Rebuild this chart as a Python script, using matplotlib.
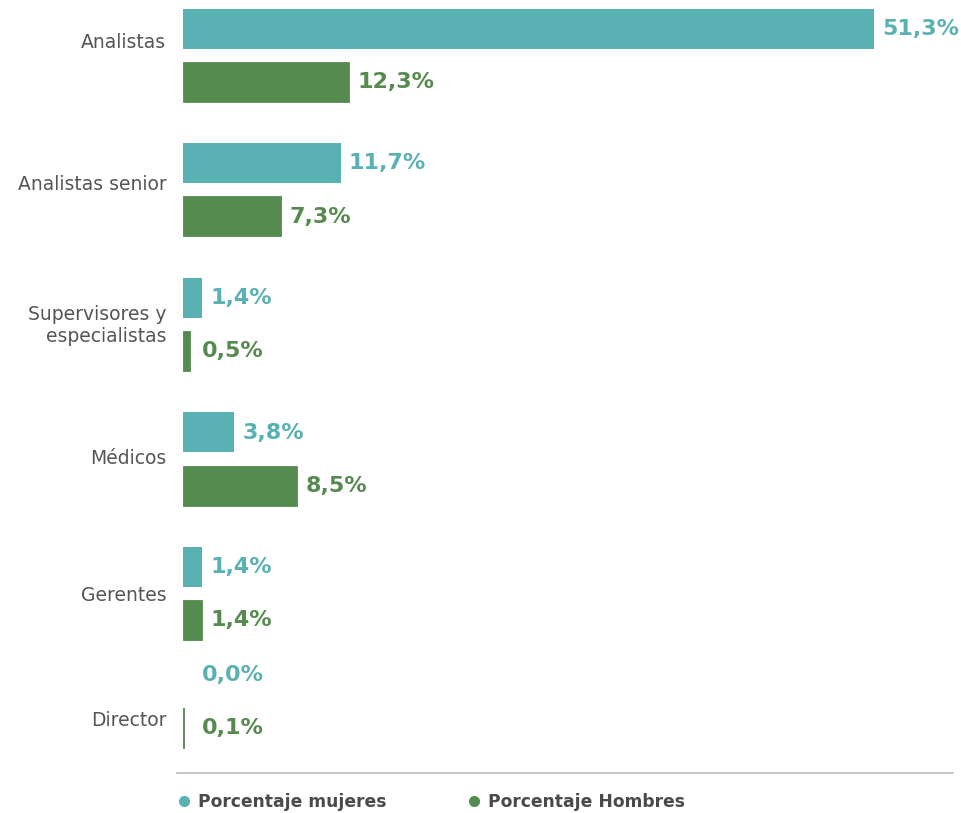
import matplotlib
matplotlib.use("Agg")
import matplotlib.pyplot as plt
from matplotlib.lines import Line2D

categories = ["Analistas", "Analistas senior", "Supervisores y\nespecialistas",
              "Médicos", "Gerentes", "Director"]
mujeres = [51.3, 11.7, 1.4, 3.8, 1.4, 0.0]
hombres = [12.3, 7.3, 0.5, 8.5, 1.4, 0.1]
series_names = ["Porcentaje mujeres", "Porcentaje Hombres"]

TEAL = "#5AB1B3"
GREEN = "#568B4F"
TXT = "#4a4a4a"

W, H = 962, 813
fig = plt.figure(figsize=(W / 100, H / 100), dpi=100)
ax = fig.add_axes([183 / W, (H - 773) / H, (953 - 183) / W, 773 / H])

# layout (pixel geometry of the reference)
step = 134.5
top = 55.5
ax.set_ylim((773 - top) / step, -top / step)
ax.set_xlim(0, (953 - 183) / 13.47)
group_pos = [0, 1, 2, 3, 4, 4.8]
label_px = [40, 182, 322, 456, 593, 718]

bh = 40 / step
off = 26.5 / step

ax.barh([y - off for y in group_pos], mujeres, height=bh, color=TEAL)
ax.barh([y + off for y in group_pos], hombres, height=bh, color=GREEN,
        edgecolor=GREEN, linewidth=0.6)

def fmt(v):
    return f"{v:.1f}".replace(".", ",") + "%"

for y, v in zip(group_pos, mujeres):
    ax.annotate(fmt(v), xy=(max(v, 0.8), y - off), xytext=(6, 0), textcoords="offset points",
                ha="left", va="center", color=TEAL, fontsize=16, fontweight="bold",
                family="DejaVu Sans")
for y, v in zip(group_pos, hombres):
    ax.annotate(fmt(v), xy=(max(v, 0.8), y + off), xytext=(6, 0), textcoords="offset points",
                ha="left", va="center", color=GREEN, fontsize=16, fontweight="bold",
                family="DejaVu Sans")

ax.set_yticks([(p - top) / step for p in label_px])
ax.set_yticklabels(categories, fontsize=13.5, color="#555555")
ax.tick_params(axis="y", length=0, pad=12)
ax.set_xticks([])
for s in ax.spines.values():
    s.set_visible(False)

fig.add_artist(Line2D([177 / W, 953 / W], [(H - 773) / H] * 2, color="#bbbbbb", lw=1.2))

handles = [Line2D([], [], marker="o", ls="", color=TEAL, markersize=7),
           Line2D([], [], marker="o", ls="", color=GREEN, markersize=7)]
leg = fig.legend(handles, series_names, loc="center left",
                 bbox_to_anchor=(160 / W, (H - 802) / H), ncol=2, frameon=False,
                 handletextpad=0.3, columnspacing=4.65, handlelength=1.0,
                 prop={"weight": "bold", "size": 12.3})
for t in leg.get_texts():
    t.set_color(TXT)

fig.savefig("out.png", dpi=100)
